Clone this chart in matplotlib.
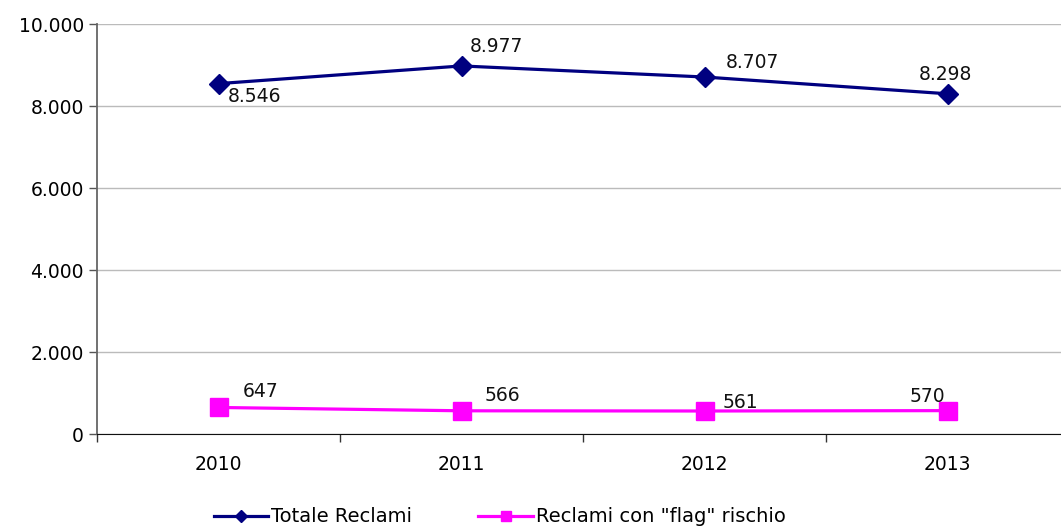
import matplotlib.pyplot as plt
from matplotlib.ticker import FuncFormatter, FixedLocator

# data
anni = ["2010", "2011", "2012", "2013"]
totale_reclami = [8546, 8977, 8707, 8298]
reclami_flag = [647, 566, 561, 570]

# label offsets (pixels) for each data label
off_totale = [(36, -13), (35, 19), (48, 15), (-2, 19)]
off_flag = [(42, 16), (41, 15), (36, 8), (-20, 14)]


def fmt_it(v, pos=None):
    return "{:,.0f}".format(v).replace(",", ".")


def plot():
    plt.rcParams['font.family'] = ['DejaVu Sans']
    fig = plt.figure(figsize=(10.61, 5.27), dpi=100)
    # axes spans past the right edge like the original
    ax = fig.add_axes([97 / 1061, 1 - 434 / 527, 972 / 1061, 410 / 527])

    x = range(len(anni))
    ax.plot(x, totale_reclami, color='#000080', lw=2.3, marker='D', ms=10,
            label='Totale Reclami', clip_on=False, zorder=3)
    ax.plot(x, reclami_flag, color='#FF00FF', lw=2.3, marker='s', ms=13,
            label='Reclami con "flag" rischio', clip_on=False, zorder=3)

    for i, v in enumerate(totale_reclami):
        ax.annotate(fmt_it(v), (i, v), xytext=off_totale[i], textcoords='offset pixels',
                    ha='center', va='center', fontsize=13.5, color='#111111')
    for i, v in enumerate(reclami_flag):
        ax.annotate(fmt_it(v), (i, v), xytext=off_flag[i], textcoords='offset pixels',
                    ha='center', va='center', fontsize=13.5, color='#111111')

    ax.set_xlim(-0.5, 3.5)
    ax.set_ylim(0, 10000)
    ax.set_yticks(range(0, 10001, 2000))
    ax.yaxis.set_major_formatter(FuncFormatter(fmt_it))
    ax.set_xticks(list(x))
    ax.set_xticklabels(anni)
    ax.xaxis.set_minor_locator(FixedLocator([-0.5, 0.5, 1.5, 2.5, 3.5]))
    ax.tick_params(axis='x', which='major', length=0, pad=15, labelsize=13.5)
    ax.tick_params(axis='x', which='minor', length=6, width=1, color='#333333')
    ax.tick_params(axis='y', length=5.5, width=1, color='#555555', labelsize=13.5, pad=4)

    ax.grid(axis='y', color='#bbbbbb', lw=1)
    ax.set_axisbelow(True)
    for s in ['top', 'right']:
        ax.spines[s].set_visible(False)
    ax.spines['left'].set_color('#666666')
    ax.spines['left'].set_linewidth(1.3)
    ax.spines['bottom'].set_color('#111111')

    h, l = ax.get_legend_handles_labels()
    leg = fig.legend(h, l, loc='center', ncol=2, bbox_to_anchor=(0.471, 1 - 517 / 527),
                     frameon=False, fontsize=14, handlelength=2.8, handletextpad=0.15,
                     columnspacing=3.4, markerscale=0.6)

    fig.savefig('out.png', dpi=100)


def main():
    plot()


if __name__ == "__main__":
    main()
